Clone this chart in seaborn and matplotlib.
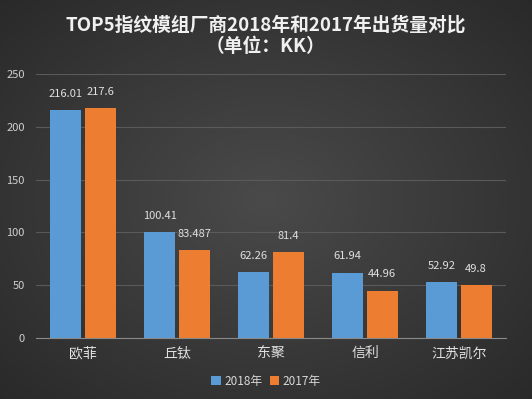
import numpy as np
import pandas as pd
import matplotlib
matplotlib.use("Agg")
import matplotlib.pyplot as plt
import seaborn as sns
from matplotlib.patches import Patch

categories = ["欧菲", "丘钛", "东聚", "信利", "江苏凯尔"]
values_2018 = [216.01, 100.41, 62.26, 61.94, 52.92]
values_2017 = [217.6, 83.487, 81.4, 44.96, 49.8]
labels_2018 = ["216.01", "100.41", "62.26", "61.94", "52.92"]
labels_2017 = ["217.6", "83.487", "81.4", "44.96", "49.8"]
series = ["2018年", "2017年"]
yticks = [0, 50, 100, 150, 200, 250]

df = pd.DataFrame({
    "cat": categories * 2,
    "val": values_2018 + values_2017,
    "series": [series[0]] * 5 + [series[1]] * 5,
})

sns.set_theme(style="dark")
plt.rcParams['font.family'] = ['Noto Sans CJK SC', 'DejaVu Sans']

fig = plt.figure(figsize=(5.32, 3.99), dpi=100)
fig.patch.set_facecolor("#383838")

# radial background gradient
h, w = 399, 532
yy, xx = np.mgrid[0:h, 0:w]
r = np.sqrt(((xx - w / 2) / (w / 2)) ** 2 + ((yy - h / 2) / (h / 2)) ** 2)
g = np.clip(0.29 - 0.09 * r, 0, 1)
img = np.dstack([g, g, g])
fig.figimage(img, xo=0, yo=0, origin="upper", zorder=-5)

ax = fig.add_axes([36 / 532, 1 - 338 / 399, 470 / 532, (338 - 74) / 399])
ax.set_zorder(2)
ax.set_facecolor("none")
ax.patch.set_alpha(0)

palette = {"2018年": "#5b9bd5", "2017年": "#ed7d31"}
sns.barplot(data=df, x="cat", y="val", hue="series", order=categories,
            hue_order=series, palette=palette, width=0.73, gap=0.09,
            saturation=1, linewidth=0, ax=ax, legend=False)

ax.set_ylim(0, 250)
ax.set_xlim(-0.5, 4.5)
ax.set_yticks(yticks)
ax.set_yticklabels([str(t) for t in yticks])
ax.yaxis.grid(True, color="#5a5a5a", linewidth=0.8)
ax.xaxis.grid(False)
ax.set_axisbelow(True)
for s in ["top", "right", "left"]:
    ax.spines[s].set_visible(False)
ax.spines["bottom"].set_color("#8a8a8a")
ax.spines["bottom"].set_linewidth(0.8)
ax.tick_params(axis="y", colors="#d0d0d0", labelsize=8, length=0, pad=8)
ax.tick_params(axis="x", colors="#e0e0e0", labelsize=10, length=0, pad=6)
ax.set_xlabel("")
ax.set_ylabel("")

for cont, labs in zip(ax.containers, [labels_2018, labels_2017]):
    ax.bar_label(cont, labels=labs, padding=8, color="#e0e0e0", fontsize=8)

fig.text(0.5, 1 - 25 / 399, "TOP5指纹模组厂商2018年和2017年出货量对比",
         ha="center", va="center", color="#f0f0f0", fontsize=13.5, fontweight="bold")
fig.text(0.5, 1 - 47 / 399, "（单位：KK）",
         ha="center", va="center", color="#f0f0f0", fontsize=13.5, fontweight="bold")

handles = [Patch(facecolor=palette[s], edgecolor="none") for s in series]
fig.legend(handles, series, loc="center", bbox_to_anchor=(0.5, 1 - 381 / 399),
           ncol=2, frameon=False, fontsize=8.5, labelcolor="#d8d8d8",
           handlelength=0.8, handleheight=0.8, handletextpad=0.3, columnspacing=0.6)

fig.savefig("out.png", dpi=100, facecolor=fig.get_facecolor())
